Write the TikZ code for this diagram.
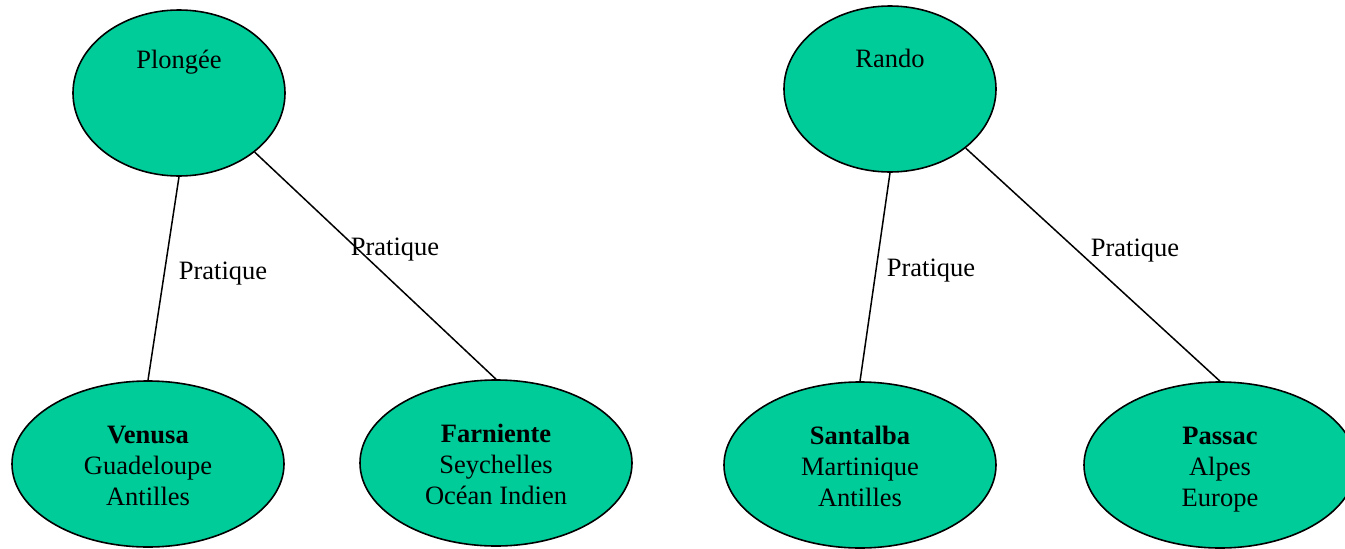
\documentclass[tikz,border=0pt]{standalone}
\usepackage{fontspec}
\setmainfont{Liberation Serif}
\usetikzlibrary{shapes.geometric}
\definecolor{nodegreen}{RGB}{0,204,153}
\newcommand{\topstrut}{\rule{0pt}{29.7pt}}
\begin{document}
\begin{tikzpicture}[x=1pt,y=-1pt,
  bubble/.style={ellipse, draw=black, line width=1.6pt, fill=nodegreen, inner sep=0pt,
    font=\fontsize{26.5}{31}\selectfont, align=center},
  topbubble/.style={bubble, minimum width=212pt, minimum height=166pt},
  leafbubble/.style={bubble, minimum width=272pt, minimum height=166pt},
  txt/.style={font=\fontsize{26.5}{31}\selectfont, align=center, inner sep=0pt},
  link/.style={line width=1.5pt}]
\useasboundingbox (0,0) rectangle (1345,549);

% top nodes
\node[topbubble] (p) at (179,93) {};
\node[txt] (pt) at (179,62) {Plongée};
\node[topbubble] (r) at (890,89) {};
\node[txt] (rt) at (890,58) {Rando};

% leaf nodes
\node[leafbubble] (v) at (148,464) {\topstrut\textbf{Venusa}\\Guadeloupe\\Antilles\strut};
\node[leafbubble] (f) at (496,463) {\topstrut\textbf{Farniente}\\Seychelles\\Océan Indien\strut};
\node[leafbubble] (s) at (860,465) {\topstrut\textbf{Santalba}\\Martinique\\Antilles\strut};
\node[leafbubble] (a) at (1220,465) {\topstrut\textbf{Passac}\\Alpes\\Europe\strut};

% connectors
\draw[link] (p.south) -- (v.north);
\draw[link] (p.-38) -- (f.north);
\draw[link] (r.south) -- (s.north);
\draw[link] (r.-38) -- (a.north);

% edge labels
\node[txt] (l1) at (223,274) {Pratique};
\node[txt] (l2) at (395,250) {Pratique};
\node[txt] (l3) at (931,271) {Pratique};
\node[txt] (l4) at (1135,251) {Pratique};
\end{tikzpicture}
\end{document}
